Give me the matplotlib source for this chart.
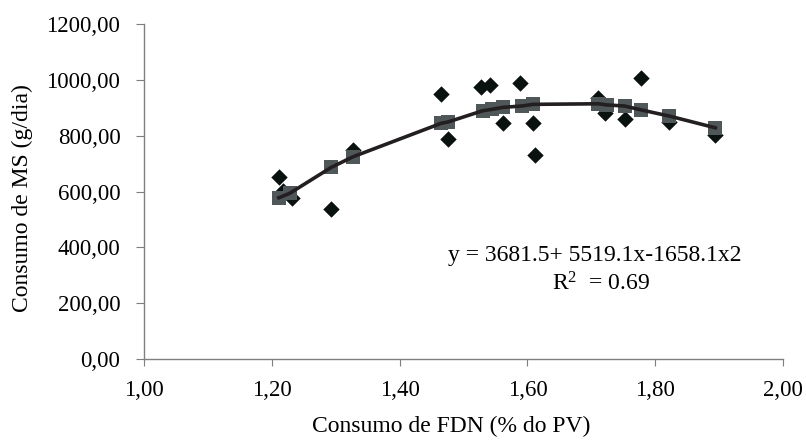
import matplotlib
matplotlib.use("Agg")
import matplotlib.pyplot as plt

# Observed values (diamonds)
obs_x = [1.211, 1.217, 1.231, 1.293, 1.327, 1.465, 1.475, 1.528, 1.541, 1.561,
         1.588, 1.608, 1.612, 1.711, 1.722, 1.752, 1.778, 1.822, 1.894]
obs_y = [651, 603, 576, 537, 749, 949, 790, 976, 981, 847,
         988, 847, 731, 937, 883, 859, 1006, 851, 803]

# Predicted values (squares), joined by the fitted line
pred_x = [1.211, 1.228, 1.293, 1.327, 1.465, 1.476, 1.530, 1.544, 1.561, 1.591,
          1.609, 1.711, 1.724, 1.752, 1.778, 1.822, 1.894]
pred_y = [578, 594, 687, 725, 845, 850, 890, 895, 902, 907,
          913, 915, 911, 907, 893, 871, 829]

x_ticks = [1.00, 1.20, 1.40, 1.60, 1.80, 2.00]
y_ticks = [0, 200, 400, 600, 800, 1000, 1200]

plt.rcParams['font.family'] = ['Liberation Serif', 'DejaVu Serif']
plt.rcParams['mathtext.fontset'] = 'custom'
plt.rcParams['mathtext.rm'] = 'Liberation Serif'
plt.rcParams['mathtext.it'] = 'Liberation Serif:italic'

fig = plt.figure(figsize=(8.06, 4.45), dpi=100)
ax = fig.add_axes([0.1787, 0.1933, 0.9715 - 0.1787, 0.9454 - 0.1933])

ax.plot(pred_x, pred_y, color='#231f20', lw=2.6, zorder=3)
ax.scatter(pred_x, pred_y, marker='s', s=110, color='#4f5759', zorder=2, linewidths=0)
ax.scatter(obs_x, obs_y, marker='D', s=70, color='#0a1210', zorder=1, linewidths=0)

ax.set_xlim(1.0, 2.0)
ax.set_ylim(0, 1200)
ax.set_xticks(x_ticks)
ax.set_yticks(y_ticks)
ax.set_xticklabels([f"{v:.2f}".replace('.', ',') for v in x_ticks])
ax.set_yticklabels([f"{v:.2f}".replace('.', ',') for v in y_ticks])

for s in ['top', 'right']:
    ax.spines[s].set_visible(False)
for s in ['left', 'bottom']:
    ax.spines[s].set_color('#7f7f7f')
    ax.spines[s].set_linewidth(1.0)

ax.tick_params(axis='y', direction='out', length=6, color='#7f7f7f', labelsize=16.5, pad=11)
ax.tick_params(axis='x', direction='out', length=5, color='#7f7f7f', labelsize=16.5, pad=10)

ax.set_xlabel('Consumo de FDN (% do PV)', fontsize=17)
ax.set_ylabel('Consumo de MS (g/dia)', fontsize=17)
ax.xaxis.set_label_coords(0.48, -0.17)
ax.yaxis.set_label_coords(-0.174, 0.48)

ax.text(0.706, 0.31, 'y = 3681.5+ 5519.1x-1658.1x2', transform=ax.transAxes,
        fontsize=17, ha='center', va='center')
ax.text(0.716, 0.225, r'R$^{2}$  = 0.69', transform=ax.transAxes,
        fontsize=17, ha='center', va='center')

fig.savefig('out.png', dpi=100)
